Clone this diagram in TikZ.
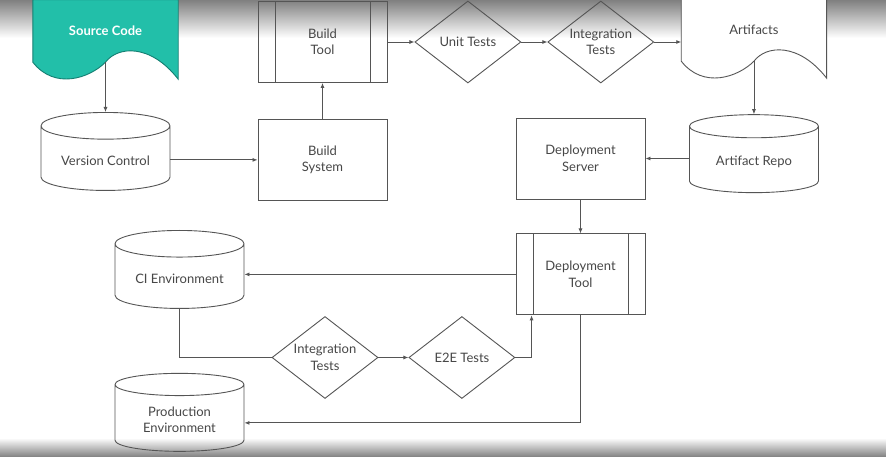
\documentclass[tikz,border=0pt]{standalone}
\usepackage{fontspec}
\setmainfont{Lato}
\usepackage{xcolor}
\usetikzlibrary{shapes,arrows.meta,positioning,calc}

\definecolor{lineg}{HTML}{555555}
\definecolor{textg}{HTML}{474747}
\definecolor{tealf}{HTML}{22BFA9}
\definecolor{teald}{HTML}{147F72}

\pgfdeclarelayer{background}
\pgfsetlayers{background,main}

\begin{document}
\begin{tikzpicture}[
    x=1pt, y=-1pt,
    font=\fontsize{13}{16.5}\selectfont, text=textg,
    box/.style={rectangle, draw=lineg, line width=0.9pt, align=center, minimum width=129pt, minimum height=81pt},
    process/.style={box, path picture={
        \draw[lineg, line width=0.9pt] ([xshift=17pt]path picture bounding box.north west) -- ([xshift=17pt]path picture bounding box.south west);
        \draw[lineg, line width=0.9pt] ([xshift=-17pt]path picture bounding box.north east) -- ([xshift=-17pt]path picture bounding box.south east);}},
    decision/.style={diamond, draw=lineg, line width=0.9pt, align=center, inner sep=0pt, shape aspect=1.3, minimum width=106pt, minimum height=82pt},
    store/.style={cylinder, shape border rotate=90, aspect=0.28, draw=lineg, line width=0.9pt, align=center, minimum width=129pt, minimum height=78pt},
    doc/.style={rectangle, align=center, minimum width=145pt, minimum height=62pt},
    docline/.style={draw=lineg, line width=0.9pt},
    flow/.style={draw=lineg, line width=0.8pt, -{Latex[length=5pt,width=4pt]}},
    link/.style={draw=lineg, line width=0.8pt}
]
\useasboundingbox (0,0) rectangle (886,457);

% screen shading
\begin{pgfonlayer}{background}
\fill[white] (0,0) rectangle (886,457);
\fill[top color=black!50, bottom color=white] (0,0) rectangle (886,38);
\fill[top color=white, bottom color=black!50] (0,438) rectangle (886,457);
\end{pgfonlayer}

% top row
\node[doc] (src) at (105.5,31) {\textcolor{white}{\bfseries Source Code}};
\node[process] (buildtool) at (322.5,42) {Build\\Tool};
\node[decision, right=27pt of buildtool] (unit) {Unit Tests};
\node[decision, right=26pt of unit] (integ) {Integration\\Tests};
\node[doc, right=27pt of integ, yshift=12pt] (art) {Artifacts};

% second row
\node[store, anchor=north] (vc) at (105.5,112) {Version Control};
\node[box, below=36pt of buildtool] (buildsys) {Build\\System};
\node[box] (depserv) at (580.5,158.5) {Deployment\\Server};
\node[store, below=53pt of art] (repo) {Artifact Repo};

% deployment
\node[process, below=34pt of depserv] (deptool) {Deployment\\Tool};
\node[store, anchor=north] (ci) at (179.5,230) {CI Environment};
\node[decision] (integ2) at (325,357.5) {Integration\\Tests};
\node[decision, right=30pt of integ2] (e2e) {E2E Tests};
\node[store, below=64pt of ci] (prod) {Production\\Environment};

% document outlines
\begin{pgfonlayer}{background}
\draw[docline, draw=teald, fill=tealf] (src.south west) -- (src.north west) -- (src.north east) -- ([yshift=-17pt]src.south east)
    .. controls +(-28,-36) and +(12,-16) .. (src.south)
    .. controls +(-16,16) and +(22,28) .. (src.south west) -- cycle;
\draw[docline, fill=white] (art.south west) -- (art.north west) -- (art.north east) -- ([yshift=-17pt]art.south east)
    .. controls +(-28,-36) and +(12,-16) .. (art.south)
    .. controls +(-16,16) and +(22,28) .. (art.south west) -- cycle;
\end{pgfonlayer}

% connectors
\draw[flow] (src.south) -- (vc.north);
\draw[flow] (vc.east |- buildsys.west) -- (buildsys.west);
\draw[flow] (buildsys.north) -- (buildtool.south);
\draw[flow] (buildtool.east) -- (unit.west);
\draw[flow] (unit.east) -- (integ.west);
\draw[flow] (integ.east) -- (integ.east -| art.west);
\draw[flow] (art.south) -- (repo.north);
\draw[flow] (repo.west |- depserv.east) -- (depserv.east);
\draw[flow] (depserv.south) -- (deptool.north);
\draw[flow] (deptool.west) -- (deptool.west -| ci.east);
\draw[link] (ci.south) |- (integ2.west);
\draw[flow] (integ2.east) -- (e2e.west);
\draw[flow] (e2e.east) -| ([xshift=16pt]deptool.south west);
\draw[flow] (deptool.south) |- ([yshift=-3pt]prod.east);

\end{tikzpicture}
\end{document}
